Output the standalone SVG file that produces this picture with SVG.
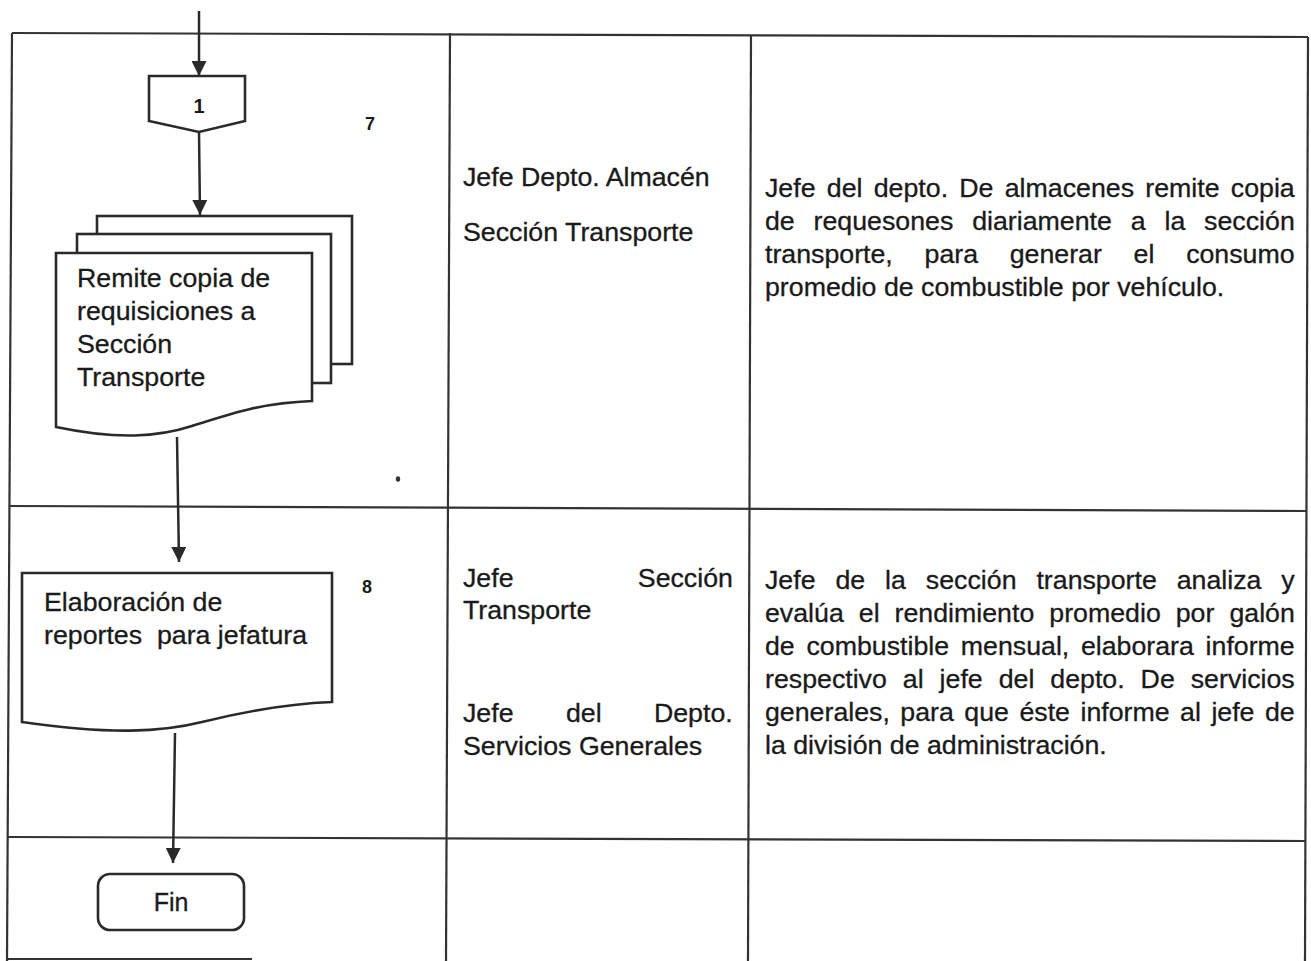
<svg xmlns="http://www.w3.org/2000/svg" width="1311" height="961" viewBox="0 0 1311 961">
  <style>
    .t { font-family: "Liberation Sans", Arial, Helvetica, sans-serif; font-size: 25px; fill: #1a1a1a; stroke: #1a1a1a; stroke-width: 0.3px; }
    .num { font-family: "Liberation Sans", Arial, sans-serif; font-size: 18px; font-weight: bold; fill: #1a1a1a; }
    .grid { stroke: #333; stroke-width: 2.2; fill: none; }
    .shape { fill: #fff; stroke: #2a2a2a; stroke-width: 2.6; stroke-linejoin: miter; }
    .conn { stroke: #2a2a2a; stroke-width: 2.5; fill: none; marker-end: url(#arrow); }
  </style>
  <defs>
    <marker id="arrow" viewBox="0 0 15 15" refX="15" refY="7.5" markerWidth="15" markerHeight="15" markerUnits="userSpaceOnUse" orient="auto">
      <path d="M0,0 L15,7.5 L0,15 Z" fill="#2a2a2a"/>
    </marker>
  </defs>
  <rect x="0" y="0" width="1311" height="961" fill="#fff"/>

  <g id="table">
    <line class="grid" x1="12" y1="33" x2="1308" y2="37"/>
    <line class="grid" x1="12" y1="33" x2="7" y2="961"/>
    <line class="grid" x1="450" y1="33" x2="446" y2="961"/>
    <line class="grid" x1="751" y1="35" x2="748" y2="961"/>
    <line class="grid" x1="1308" y1="37" x2="1305" y2="961"/>
    <line class="grid" x1="10" y1="506" x2="1307" y2="511"/>
    <line class="grid" x1="8" y1="837" x2="1305" y2="841"/>
    <line class="grid" x1="7" y1="959" x2="252" y2="959"/>
  </g>

  <g id="connectors">
    <line class="conn" x1="199" y1="11" x2="199" y2="76"/>
    <line class="conn" x1="199" y1="132" x2="200" y2="215"/>
    <line class="conn" x1="177" y1="437" x2="179" y2="562"/>
    <line class="conn" x1="175" y1="733" x2="173" y2="863"/>
  </g>

  <g id="node-connector-1">
    <path class="shape" d="M149,76 H245 V121 L199,132 L149,121 Z"/>
    <text class="num" x="199" y="113" text-anchor="middle" style="font-size:20px">1</text>
  </g>

  <g id="node-remite">
    <rect class="shape" x="97" y="216" width="255" height="148"/>
    <rect class="shape" x="77" y="234" width="254" height="149"/>
    <path class="shape" d="M56,253 H312 V401 C262,403 232,413 192,426 C158,437 118,440 56,427 Z"/>
    <text class="t" transform="translate(77,287) scale(1.07,1)">Remite copia de</text>
    <text class="t" transform="translate(77,320) scale(1.07,1)">requisiciones a</text>
    <text class="t" transform="translate(77,353) scale(1.07,1)">Sección</text>
    <text class="t" transform="translate(77,386) scale(1.07,1)">Transporte</text>
  </g>
  <text class="num" x="365" y="130">7</text>
  <ellipse cx="398" cy="479" rx="2.2" ry="2.8" fill="#333"/>

  <g id="node-elaboracion">
    <path class="shape" d="M22,573 H332 V702 C282,704 242,712 202,722 C162,732 112,735 22,722 Z"/>
    <text class="t" transform="translate(44,611) scale(1.07,1)">Elaboración de</text>
    <text class="t" transform="translate(44,644) scale(1.07,1)" xml:space="preserve">reportes  para jefatura</text>
  </g>
  <text class="num" x="362" y="593">8</text>

  <g id="node-fin">
    <rect class="shape" x="98" y="874" width="146" height="56" rx="12" ry="12"/>
    <text class="t" x="171" y="911" text-anchor="middle">Fin</text>
  </g>

  <g id="cell-responsables-1">
    <text class="t" transform="translate(463,186) scale(1.07,1)">Jefe Depto. Almacén</text>
    <text class="t" transform="translate(463,241) scale(1.07,1)">Sección Transporte</text>
  </g>

  <g id="cell-descripcion-1">
    <text class="t" transform="translate(765,197) scale(1.07,1)" style="word-spacing:3.58px">Jefe del depto. De almacenes remite copia</text>
    <text class="t" transform="translate(765,230) scale(1.07,1)" style="word-spacing:10.68px">de requesones diariamente a la sección</text>
    <text class="t" transform="translate(765,263) scale(1.07,1)" style="word-spacing:22.7px">transporte, para generar el consumo</text>
    <text class="t" transform="translate(765,296) scale(1.07,1)">promedio de combustible por vehículo.</text>
  </g>

  <g id="cell-responsables-2">
    <text class="t" transform="translate(463,587) scale(1.07,1)" style="word-spacing:109.2px">Jefe Sección</text>
    <text class="t" transform="translate(463,619) scale(1.07,1)">Transporte</text>
    <text class="t" transform="translate(463,722) scale(1.07,1)" style="word-spacing:42px">Jefe del Depto.</text>
    <text class="t" transform="translate(463,755) scale(1.07,1)">Servicios Generales</text>
  </g>

  <g id="cell-descripcion-2">
    <text class="t" transform="translate(765,589) scale(1.07,1)" style="word-spacing:11.68px">Jefe de la sección transporte analiza y</text>
    <text class="t" transform="translate(765,622) scale(1.07,1)" style="word-spacing:7.08px">evalúa el rendimiento promedio por galón</text>
    <text class="t" transform="translate(765,655) scale(1.07,1)" style="word-spacing:3.98px">de combustible mensual, elaborara informe</text>
    <text class="t" transform="translate(765,688) scale(1.07,1)" style="word-spacing:7.98px">respectivo al jefe del depto. De servicios</text>
    <text class="t" transform="translate(765,721) scale(1.07,1)" style="word-spacing:2.86px">generales, para que éste informe al jefe de</text>
    <text class="t" transform="translate(765,754) scale(1.07,1)">la división de administración.</text>
  </g>
</svg>
